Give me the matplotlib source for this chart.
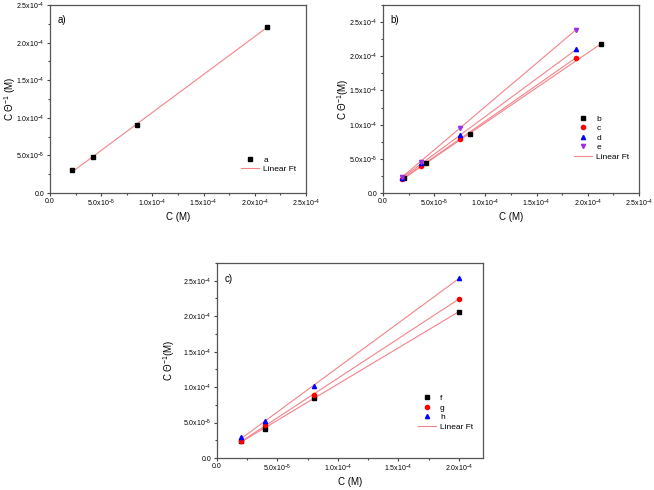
import numpy as np
import matplotlib
matplotlib.use("Agg")
import matplotlib.pyplot as plt
from matplotlib.ticker import FuncFormatter, MultipleLocator, AutoMinorLocator
from matplotlib.lines import Line2D

plt.rcParams['font.family'] = ['Liberation Sans', 'DejaVu Sans']
plt.rcParams['mathtext.fontset'] = 'custom'
plt.rcParams['mathtext.rm'] = 'Liberation Sans'

# Panel a
a_x = [2.12e-5, 4.24e-5, 8.48e-5, 2.12e-4]
a_y = [3.0e-5, 4.75e-5, 9.0e-5, 2.21e-4]

# Panel b
b_x = [2.05e-5, 4.23e-5, 8.46e-5, 2.126e-4]
b_y = [2.2e-5, 4.35e-5, 8.7e-5, 2.18e-4]
cde_x = [1.87e-5, 3.75e-5, 7.5e-5, 1.888e-4]
c_y = [2.0e-5, 3.95e-5, 7.95e-5, 1.98e-4]
d_y = [2.15e-5, 4.35e-5, 8.45e-5, 2.1e-4]
e_y = [2.4e-5, 4.6e-5, 9.55e-5, 2.39e-4]

# Panel c
fgh_x = [2e-5, 4e-5, 8e-5, 2e-4]
f_y = [2.43e-5, 4.1e-5, 8.4e-5, 2.065e-4]
g_y = [2.38e-5, 4.6e-5, 8.9e-5, 2.245e-4]
h_y = [2.9e-5, 5.15e-5, 1.015e-4, 2.535e-4]

FIT = '#f4838a'
W, H = 654, 490
fig = plt.figure(figsize=(W/100, H/100), dpi=100)

def ax_at(l, r, t, b):
    return fig.add_axes([l/W, 1-b/H, (r-l)/W, (b-t)/H])

def fmt(v, pos):
    if abs(v) < 1e-12:
        return '0.0'
    e = int(np.floor(np.log10(abs(v)) + 1e-9))
    m = v / 10**e
    return r'%.1fx10$^{%d}$' % (m, e)

def style(ax, xmax, ymax, label, ylab, ylab_x):
    ax.set_xlim(0, xmax)
    ax.set_ylim(0, ymax)
    ax.xaxis.set_major_locator(MultipleLocator(5e-5))
    ax.yaxis.set_major_locator(MultipleLocator(5e-5))
    ax.xaxis.set_minor_locator(AutoMinorLocator(2))
    ax.yaxis.set_minor_locator(AutoMinorLocator(2))
    ax.xaxis.set_major_formatter(FuncFormatter(fmt))
    ax.yaxis.set_major_formatter(FuncFormatter(fmt))
    ax.tick_params(which='both', direction='out', top=False, right=False,
                   labelsize=5.0, color='#444444', width=0.8, pad=1.2)
    ax.tick_params(which='major', length=2.5)
    ax.tick_params(which='minor', length=1.6)
    for s in ax.spines.values():
        s.set_color('#555555')
        s.set_linewidth(0.9)
    ax.set_xlabel('C (M)', fontsize=7, labelpad=2)
    ax.set_ylabel(ylab, fontsize=7)
    ax.yaxis.set_label_coords(ylab_x, 0.5)
    ax.text(0.03, 0.92, label, transform=ax.transAxes, fontsize=7, va='center')

def series(ax, x, y, marker, color, name, ms=3.0):
    x = np.array(x); y = np.array(y)
    p = np.polyfit(x, y, 1)
    xx = np.array([x.min(), x.max()])
    ax.plot(xx, np.polyval(p, xx), color=FIT, lw=0.8, zorder=1)
    ax.plot(x, y, linestyle='none', marker=marker, color=color, ms=ms,
            label=name, zorder=2)

def legend(ax, loc):
    h, l = ax.get_legend_handles_labels()
    h.append(Line2D([], [], color=FIT, lw=0.8))
    l.append('Linear Ft')
    ax.legend(h, l, loc='lower right', bbox_to_anchor=loc, frameon=False,
              fontsize=6, handlelength=2.2, handletextpad=0.5,
              labelspacing=0.2, borderpad=0.2)

# Panel a
ax1 = ax_at(50, 306, 5, 193)
series(ax1, a_x, a_y, 's', 'black', 'a')
style(ax1, 2.5e-4, 2.5e-4, 'a)', r'C $\Theta^{-1}$ (M)', -0.125)
legend(ax1, (0.985, 0.075))

# Panel b
ax2 = ax_at(383, 639, 5, 193)
series(ax2, b_x, b_y, 's', 'black', 'b')
series(ax2, cde_x, c_y, 'o', 'red', 'c')
series(ax2, cde_x, d_y, '^', 'blue', 'd')
series(ax2, cde_x, e_y, 'v', '#9b30e8', 'e')
style(ax2, 2.5e-4, 2.75e-4, 'b)', r'C $\Theta^{-1}$(M)', -0.125)
legend(ax2, (0.985, 0.14))

# Panel c
ax3 = ax_at(217, 483, 263, 458)
series(ax3, fgh_x, f_y, 's', 'black', 'f')
series(ax3, fgh_x, g_y, 'o', 'red', 'g')
series(ax3, fgh_x, h_y, '^', 'blue', 'h')
style(ax3, 2.2e-4, 2.75e-4, 'c)', r'C $\Theta^{-1}$(M)', -0.15)
legend(ax3, (0.985, 0.11))

fig.savefig('out.png', dpi=100)
